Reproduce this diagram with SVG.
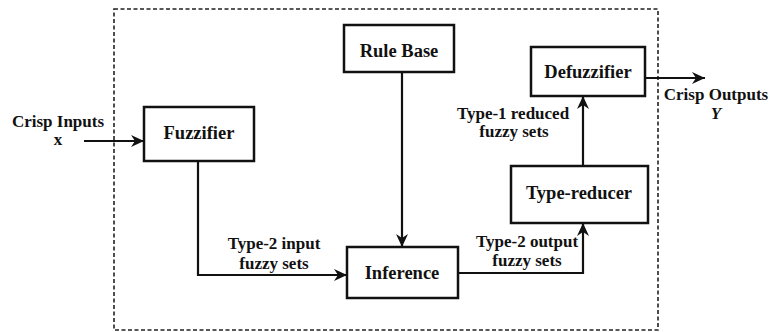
<svg xmlns="http://www.w3.org/2000/svg" width="770" height="332" viewBox="0 0 770 332">
<style>
  .box { fill: #fff; stroke: #111; stroke-width: 2.5; }
  .conn { fill: none; stroke: #111; stroke-width: 2.2; }
  text { font-family: 'Liberation Serif', 'DejaVu Serif', 'Times New Roman', serif; font-weight: bold; fill: #111; text-anchor: middle; }
  .nt { font-size: 18.5px; }
  .lt { font-size: 17px; }
</style>
<defs>
  <marker id="arr" markerUnits="userSpaceOnUse" markerWidth="14" markerHeight="12" refX="13" refY="6" orient="auto">
    <path d="M0,0 L13,6 L0,12 L4,6 Z" fill="#111"/>
  </marker>
</defs>
<rect x="0" y="0" width="770" height="332" fill="#fff"/>
<rect x="114" y="9" width="544" height="321" fill="none" stroke="#222" stroke-width="1.6" stroke-dasharray="4,2.5"/>

<g id="connectors">
  <line class="conn" x1="84" y1="141" x2="144" y2="141" marker-end="url(#arr)"/>
  <polyline class="conn" points="198,161 198,275 347,275" marker-end="url(#arr)"/>
  <line class="conn" x1="402" y1="72" x2="402" y2="247" marker-end="url(#arr)"/>
  <polyline class="conn" points="458,273 583,273 583,223" marker-end="url(#arr)"/>
  <line class="conn" x1="583" y1="166" x2="583" y2="96" marker-end="url(#arr)"/>
  <line class="conn" x1="645" y1="78" x2="705" y2="78" marker-end="url(#arr)"/>
  <text class="lt" x="58" y="127">Crisp Inputs</text>
  <text class="lt" x="58" y="145">x</text>
  <text class="lt" x="716" y="100">Crisp Outputs</text>
  <text class="lt" x="716" y="119" font-style="italic">Y</text>
  <text class="lt" x="274" y="249">Type-2 input</text>
  <text class="lt" x="274" y="269">fuzzy sets</text>
  <text class="lt" x="527" y="247">Type-2 output</text>
  <text class="lt" x="527" y="266">fuzzy sets</text>
  <text class="lt" x="513" y="119">Type-1 reduced</text>
  <text class="lt" x="514" y="137">fuzzy sets</text>
</g>

<g id="fuzzifier">
  <rect class="box" x="144" y="107" width="110" height="54"/>
  <text class="nt" x="199" y="139">Fuzzifier</text>
</g>
<g id="rule-base">
  <rect class="box" x="344" y="25" width="110" height="47"/>
  <text class="nt" x="399" y="57">Rule Base</text>
</g>
<g id="inference">
  <rect class="box" x="347" y="247" width="111" height="51"/>
  <text class="nt" x="402" y="279">Inference</text>
</g>
<g id="type-reducer">
  <rect class="box" x="511" y="166" width="137" height="57"/>
  <text class="nt" x="579" y="199">Type-reducer</text>
</g>
<g id="defuzzifier">
  <rect class="box" x="531" y="47" width="114" height="49"/>
  <text class="nt" x="588" y="78">Defuzzifier</text>
</g>
</svg>
